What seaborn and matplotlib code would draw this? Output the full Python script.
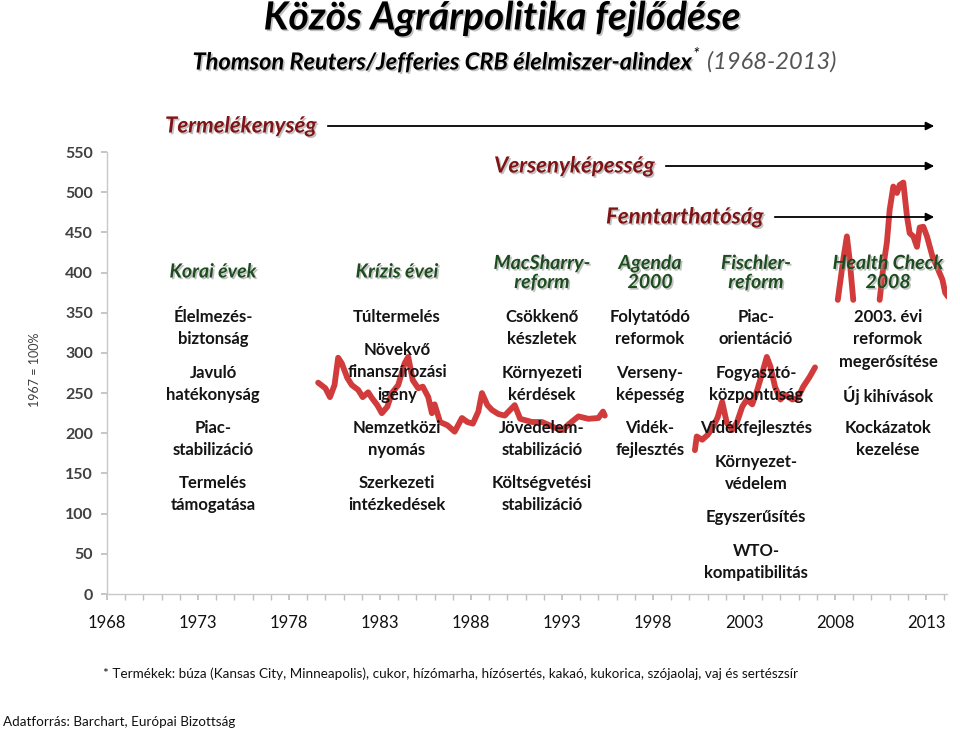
import numpy as np
import pandas as pd
import matplotlib.pyplot as plt
import matplotlib.patheffects as pe
from matplotlib import font_manager
import seaborn as sns

# CRB food sub-index (1967 = 100%), only the stretches that are visible in the chart
years_80s = [1979.6, 1980.0, 1980.25, 1980.5, 1980.7, 1980.9, 1981.2, 1981.45, 1981.8, 1982.05,
             1982.35, 1982.55, 1982.85, 1983.1, 1983.4, 1983.65, 1984.0, 1984.35, 1984.55, 1984.8,
             1985.1, 1985.35, 1985.65, 1985.85, 1986.0, 1986.3, 1986.7, 1987.1, 1987.5, 1987.8,
             1988.1, 1988.4, 1988.6, 1988.9, 1989.15, 1989.5, 1989.85, 1990.4, 1990.7, 1991.35,
             1991.9, 1992.6, 1993.05, 1993.35, 1993.9, 1994.45, 1995.0, 1995.25, 1995.35]
index_80s = [263, 256, 245, 260, 294, 287, 269, 260, 254, 245,
             251, 244, 235, 225, 233, 250, 260, 287, 295, 266,
             256, 258, 245, 225, 236, 214, 210, 202, 219, 214,
             212, 227, 250, 235, 229, 224, 222, 235, 218, 214,
             214, 207, 204, 211, 221, 218, 219, 227, 222]

years_00s = [2000.3, 2000.4, 2000.7, 2001.0, 2001.3, 2001.55, 2001.8, 2002.05, 2002.35, 2002.6,
             2002.9, 2003.15, 2003.45, 2003.7, 2004.0, 2004.25, 2004.45, 2004.7, 2005.0, 2005.25,
             2005.65, 2005.95, 2006.25, 2006.6, 2006.9]
index_00s = [179, 196, 192, 198, 208, 220, 239, 213, 204, 213,
             233, 242, 236, 252, 275, 295, 283, 258, 242, 248,
             242, 244, 258, 270, 282]

years_08 = [2008.15, 2008.45, 2008.65, 2008.8, 2009.0]
index_08 = [366, 416, 445, 416, 366]

years_11 = [2010.45, 2010.65, 2010.85, 2011.0, 2011.2, 2011.4, 2011.55, 2011.75, 2011.85, 2011.95,
            2012.1, 2012.3, 2012.5, 2012.65, 2012.85, 2013.05, 2013.35, 2013.6, 2013.9, 2014.05, 2014.2]
index_11 = [366, 407, 438, 478, 507, 499, 509, 512, 491, 470,
            449, 445, 432, 456, 457, 445, 420, 407, 391, 375, 370]

tick_years = list(range(1968, 2014, 5))
y_ticks = list(range(0, 551, 50))

df = pd.concat([
    pd.DataFrame({"year": years_80s, "index": index_80s, "seg": "a"}),
    pd.DataFrame({"year": years_00s, "index": index_00s, "seg": "b"}),
    pd.DataFrame({"year": years_08, "index": index_08, "seg": "c"}),
    pd.DataFrame({"year": years_11, "index": index_11, "seg": "d"}),
])

sns.set_theme(style="white")
names = {f.name for f in font_manager.fontManager.ttflist}
main_font = "Lato" if "Lato" in names else "DejaVu Sans"
plt.rcParams["font.family"] = [main_font, "DejaVu Sans"]

W, H = 960, 733
fig = plt.figure(figsize=(W / 100, H / 100), dpi=100)
fig.patch.set_facecolor("white")
ax = fig.add_axes([107 / W, 1 - 594 / H, (947 - 107) / W, (594 - 152) / H])

sns.lineplot(data=df, x="year", y="index", units="seg", estimator=None,
             color="#d13b3b", linewidth=4.2, ax=ax, zorder=2)

ax.set_xlim(1968, 2014.15)
ax.set_ylim(0, 550)
ax.set_xticks(tick_years)
ax.set_xticks(range(1968, 2015), minor=True)
ax.set_xticklabels([str(y) for y in tick_years], fontsize=12, color="#111111")
ax.set_yticks(y_ticks)
ax.set_yticklabels([str(v) for v in y_ticks], fontsize=11.5, fontweight="bold", color="#404040")
ax.tick_params(axis="x", which="both", direction="out", length=4, color="#bfbfbf", pad=11, bottom=True)
ax.tick_params(axis="y", direction="out", length=4, color="#bfbfbf", pad=6, left=True)
ax.set_xlabel("")
ax.set_ylabel("")
for s in ["top", "right"]:
    ax.spines[s].set_visible(False)
for s in ["left", "bottom"]:
    ax.spines[s].set_color("#c8c8c8")
    ax.spines[s].set_linewidth(1)
ax.grid(False)


def px(x, y):
    return x / W, 1 - y / H


shadow = [pe.withSimplePatchShadow(offset=(1.2, -1.2), shadow_rgbFace="#999999", alpha=0.6)]

fig.text(*px(502, 18), "Közös Agrárpolitika fejlődése", ha="center", va="center",
         fontsize=28, fontweight="bold", fontstyle="italic", color="black", path_effects=shadow)
fig.text(*px(692, 62), "Thomson Reuters/Jefferies CRB élelmiszer-alindex", ha="right", va="center",
         fontsize=17, fontweight="bold", fontstyle="italic", color="black", path_effects=shadow)
fig.text(*px(693, 55), "*", ha="left", va="center",
         fontsize=12, fontstyle="italic", color="black")
fig.text(*px(707, 62), "(1968-2013)", ha="left", va="center",
         fontsize=17, fontstyle="italic", color="#555555")

fig.text(*px(35, 370), "1967 = 100%", rotation=90, ha="center", va="center",
         fontsize=9, color="#404040")

# red headings with arrows
red = "#7f1416"
for label, x0, x1, y in [("Termelékenység", 165, 325, 126),
                         ("Versenyképesség", 494, 663, 166),
                         ("Fenntarthatóság", 606, 772, 217)]:
    fig.text(*px(x0, y), label, ha="left", va="center", fontsize=16, fontweight="bold",
             fontstyle="italic", color=red, path_effects=shadow)
    ax.annotate("", xy=px(937, y), xytext=px(x1, y), xycoords="figure fraction",
                textcoords="figure fraction",
                arrowprops=dict(arrowstyle="-|>", color="black", lw=1.3, mutation_scale=12))

# green period headers
green = "#1d4d1f"
for label, x, y in [("Korai évek", 213, 272), ("Krízis évei", 397, 272),
                    ("MacSharry-\nreform", 542, 273), ("Agenda\n2000", 650, 273),
                    ("Fischler-\nreform", 756, 273), ("Health Check\n2008", 888, 273)]:
    fig.text(*px(x, y), label, ha="center", va="center", fontsize=14, fontweight="bold",
             fontstyle="italic", color=green, linespacing=1.15, path_effects=shadow, zorder=5)

# body table: (column centre, first line y, lines)
cells = [
    (213, 317, ["Élelmezés-", "biztonság"]), (213, 373, ["Javuló", "hatékonyság"]),
    (213, 428, ["Piac-", "stabilizáció"]), (213, 483, ["Termelés", "támogatása"]),
    (397, 317, ["Túltermelés"]), (397, 350, ["Növekvő", "finanszírozási", "igény"]),
    (397, 428, ["Nemzetközi", "nyomás"]), (397, 483, ["Szerkezeti", "intézkedések"]),
    (542, 317, ["Csökkenő", "készletek"]), (542, 373, ["Környezeti", "kérdések"]),
    (542, 428, ["Jövedelem-", "stabilizáció"]), (542, 483, ["Költségvetési", "stabilizáció"]),
    (650, 317, ["Folytatódó", "reformok"]), (650, 373, ["Verseny-", "képesség"]),
    (650, 428, ["Vidék-", "fejlesztés"]),
    (756, 317, ["Piac-", "orientáció"]), (756, 373, ["Fogyasztó-", "központúság"]),
    (756, 428, ["Vidékfejlesztés"]), (756, 462, ["Környezet-", "védelem"]),
    (756, 517, ["Egyszerűsítés"]), (756, 551, ["WTO-", "kompatibilitás"]),
    (888, 317, ["2003. évi", "reformok", "megerősítése"]), (888, 395, ["Új kihívások"]),
    (888, 428, ["Kockázatok", "kezelése"]),
]
for x, y0, lines in cells:
    for i, line in enumerate(lines):
        fig.text(*px(x, y0 + 22.3 * i), line, ha="center", va="center", fontsize=12,
                 fontweight="bold", color="#141414", zorder=5)

fig.text(*px(103, 674), "* Termékek: búza (Kansas City, Minneapolis), cukor, hízómarha, hízósertés, "
         "kakaó, kukorica, szójaolaj, vaj és sertészsír", ha="left", va="center",
         fontsize=9.7, color="#111111")
fig.text(*px(3, 722), "Adatforrás: Barchart, Európai Bizottság", ha="left", va="center",
         fontsize=9.7, color="#111111")

fig.savefig("out.png", dpi=100, facecolor="white")
